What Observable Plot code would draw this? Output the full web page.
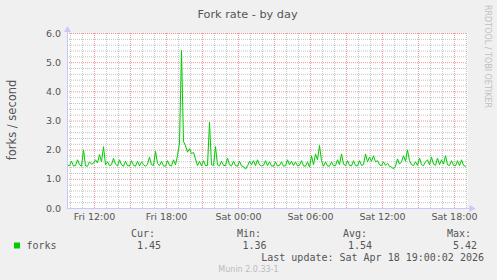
<!DOCTYPE html>
<html><head><meta charset="utf-8">
<script src="https://cdn.jsdelivr.net/npm/d3@7"></script>
<script src="https://cdn.jsdelivr.net/npm/@observablehq/plot@0.6"></script>
<style>html,body{margin:0;padding:0;background:#f0f0f0;} svg{display:block}</style>
</head><body><div id="chart"></div>
<script>
const title = "Fork rate - by day";
const yLabel = "forks / second";
const sideNote = "RRDTOOL / TOBI OETIKER";
const seriesName = "forks";
const statLabels = ["Cur:", "Min:", "Avg:", "Max:"];
const statValues = [1.45, 1.36, 1.54, 5.42];
const lastUpdate = "Last update: Sat Apr 18 19:00:02 2026";
const footer = "Munin 2.0.33-1";
const yTicks = [0, 1, 2, 3, 4, 5, 6];
const startTime = Date.UTC(2026, 3, 17, 9, 45); // Fri Apr 17 09:45
const stepMinutes = 10;
const spanMinutes = 2000;
const forks = [
1.48,1.47,1.62,1.46,1.47,1.67,1.50,1.45,2.01,1.46,
1.45,1.60,1.52,1.55,1.67,1.56,1.85,1.60,2.12,1.50,
1.60,1.47,1.50,1.72,1.52,1.46,1.67,1.50,1.45,1.62,
1.47,1.46,1.64,1.48,1.45,1.62,1.46,1.60,1.50,1.45,
1.52,1.76,1.50,1.48,1.96,1.55,1.47,1.62,1.46,1.45,
1.64,1.48,1.46,1.67,1.50,1.81,2.24,5.42,2.30,2.15,
1.93,2.05,1.88,1.92,1.70,1.47,1.62,1.46,1.64,1.47,
1.48,2.95,1.50,1.48,2.12,1.50,1.46,1.62,1.48,1.47,
1.73,1.50,1.46,1.62,1.47,1.45,1.62,1.46,1.44,1.35,
1.46,1.62,1.50,1.64,1.47,1.67,1.50,1.46,1.48,1.64,
1.47,1.60,1.46,1.45,1.60,1.46,1.48,1.60,1.45,1.47,
1.67,1.50,1.62,1.47,1.60,1.46,1.48,1.64,1.46,1.45,
1.60,1.42,1.81,1.50,1.87,1.67,2.16,1.64,1.45,1.60,
1.46,1.45,1.60,1.46,1.47,1.67,1.50,1.87,1.52,1.47,
1.64,1.48,1.46,1.64,1.47,1.46,1.64,1.48,1.50,1.87,
1.60,1.76,1.62,1.81,1.60,1.64,1.50,1.47,1.60,1.48,
1.55,1.45,1.42,1.36,1.45,1.70,1.52,1.60,1.81,1.62,
2.01,1.64,1.50,1.47,1.60,1.48,1.73,1.50,1.47,1.60,
1.67,1.50,1.76,1.52,1.48,1.73,1.50,1.67,1.52,1.81,
1.50,1.47,1.64,1.48,1.46,1.64,1.47,1.67,1.48,1.45
];

const data = forks.map((v, i) => ({t: new Date(startTime + i * stepMinutes * 60000), v}));
const t0 = new Date(startTime);
const t1 = new Date(startTime + spanMinutes * 60000);
const hours = d3.utcHour.range(t0, t1);
const minorX = hours.filter(d => d.getUTCHours() % 3 !== 0);
const majorX = hours.filter(d => d.getUTCHours() % 3 === 0);
const labelX = hours.filter(d => d.getUTCHours() % 6 === 0);
const minorY = d3.range(1, 30).filter(i => i % 5 !== 0).map(i => i / 5);
const majorY = yTicks.slice(1);
const yTop = yTicks[yTicks.length - 1];

const axisColor = "#c8c8ff";
const plot = Plot.plot({
  width: 497, height: 280,
  marginLeft: 67, marginRight: 30, marginTop: 33, marginBottom: 72,
  style: {background: "#f0f0f0", fontFamily: "DejaVu Sans", color: "#555", overflow: "visible"},
  x: {type: "utc", domain: [t0, t1]},
  y: {domain: [0, yTop]},
  marks: [
    Plot.frame({fill: "white", stroke: null}),
    Plot.ruleX(minorX, {stroke: "#c4c4c4", strokeDasharray: "1,1"}),
    Plot.ruleY(minorY, {stroke: "#c4c4c4", strokeDasharray: "1,1"}),
    Plot.ruleX(majorX, {stroke: "#eb9a9a", strokeDasharray: "1,1"}),
    Plot.ruleY(majorY, {stroke: "#eb9a9a", strokeDasharray: "1,1"}),
    Plot.line(data, {x: "t", y: "v", stroke: "#00cc00", strokeWidth: 1}),
    Plot.ruleY([0], {x1: t0, x2: d3.utcMinute.offset(t1, 20), stroke: axisColor}),
    Plot.ruleX([t0], {y1: 0, y2: yTop * 1.025, stroke: axisColor}),
    Plot.dot([t0], {x: d => d, y: () => yTop * 1.02, symbol: "triangle", r: 2.6, fill: axisColor, stroke: null}),
    Plot.dot([d3.utcMinute.offset(t1, 20)], {x: d => d, y: () => 0, symbol: "triangle", rotate: 90, r: 2.6, fill: axisColor, stroke: null}),
    Plot.axisY({ticks: yTicks, tickSize: 0, tickPadding: 6.5, tickFormat: d => d.toFixed(1), fontSize: 9.5, label: null}),
    Plot.axisX({ticks: labelX, tickSize: 0, tickPadding: 4.8, tickFormat: d3.utcFormat("%a %H:%M"), fontSize: 9.5, label: null})
  ]
});
document.getElementById("chart").appendChild(plot);

const svg = d3.select(plot);
const g = svg.append("g").attr("fill", "#555").attr("text-anchor", "start");
g.append("text").text(title).attr("x", 247.5).attr("y", 18).attr("text-anchor", "middle")
  .attr("font-family", "DejaVu Sans").attr("font-size", 11.3);
g.append("text").text(yLabel).attr("transform", "translate(15.5,120) rotate(-90)").attr("text-anchor", "middle")
  .attr("font-family", "DejaVu Sans").attr("font-size", 11.5);
g.append("text").text(sideNote).attr("transform", "translate(485,5) rotate(90)").attr("text-anchor", "start")
  .attr("font-family", "DejaVu Sans").attr("font-size", 8).attr("fill", "#c0c0c0");
g.append("rect").attr("x", 14).attr("y", 242.5).attr("width", 6).attr("height", 6).attr("fill", "#00cc00");
const mono = "DejaVu Sans Mono";
g.append("text").text(seriesName).attr("x", 26.5).attr("y", 249).attr("text-anchor", "start")
  .attr("font-family", mono).attr("font-size", 10);
const labelXs = [131, 237, 343, 447];
const valueXs = [137, 242.5, 348, 453];
statLabels.forEach((s, i) => g.append("text").text(s).attr("x", labelXs[i]).attr("y", 236.5)
  .attr("text-anchor", "start").attr("font-family", mono).attr("font-size", 10));
statValues.forEach((v, i) => g.append("text").text(v.toFixed(2)).attr("x", valueXs[i]).attr("y", 249)
  .attr("text-anchor", "start").attr("font-family", mono).attr("font-size", 10));
g.append("text").text(lastUpdate).attr("x", 484).attr("y", 260.5).attr("text-anchor", "end")
  .attr("font-family", mono).attr("font-size", 10);
g.append("text").text(footer).attr("x", 248.5).attr("y", 271.5).attr("text-anchor", "middle")
  .attr("font-family", "DejaVu Sans").attr("font-size", 8).attr("fill", "#bbb");
</script></body></html>
